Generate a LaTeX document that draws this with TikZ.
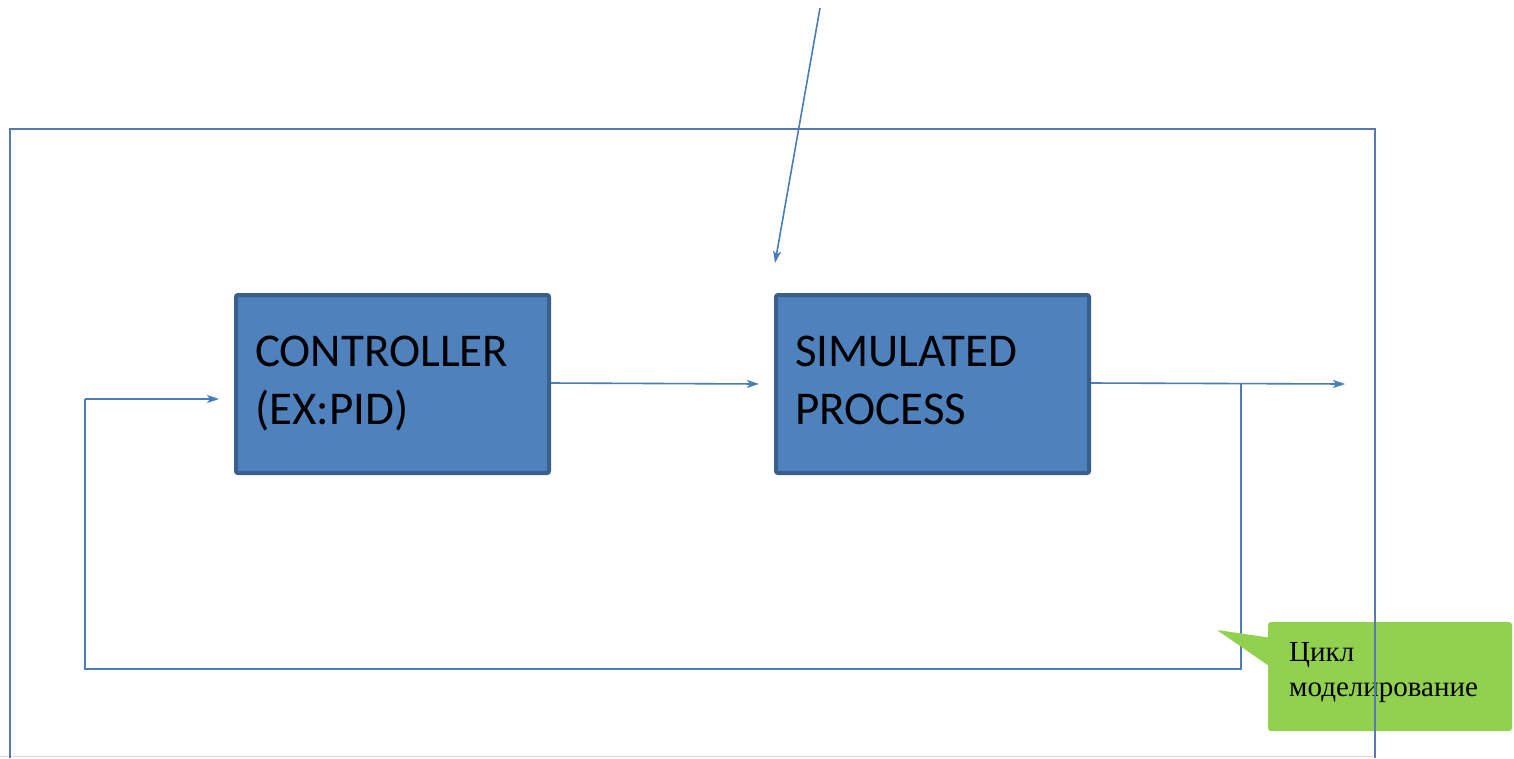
\documentclass[tikz,border=0pt]{standalone}
\usepackage{fontspec}
\setmainfont{Carlito}
\newfontfamily\notefont{Liberation Serif}
\usetikzlibrary{arrows.meta}
\definecolor{boxfill}{HTML}{4F81BD}
\definecolor{boxedge}{HTML}{3A5F8C}
\definecolor{wire}{HTML}{4A7EBB}
\definecolor{frame}{HTML}{5878B0}
\definecolor{notegreen}{HTML}{92D050}
\tikzset{
  block/.style={draw=boxedge, line width=4pt, fill=boxfill, rounded corners=2pt,
    minimum width=313pt, minimum height=178pt, inner sep=0pt},
  lbl/.style={font=\fontsize{47}{58}\selectfont, inner sep=0pt, anchor=base west},
  notelbl/.style={font=\notefont\fontsize{29}{35}\selectfont, inner sep=0pt, anchor=base west},
  wireline/.style={draw=wire, line width=1.6pt},
  flow/.style={wireline, -{Stealth[length=12pt,width=8pt,inset=3pt]}},
}
\begin{document}
\begin{tikzpicture}[x=1pt,y=-1pt]
\useasboundingbox (0,0) rectangle (1514,758);
\fill[white] (0,0) rectangle (1514,758);
% page edge at bottom
\draw[black!15, line width=1pt] (0,756) -- (1373,756);
% blocks
\node[block] (ctrl) at (392.5,384) {};
\node[block] (proc) at (932.5,384) {};
\node[lbl] (c1) at (255,366) {CONTROLLER};
\node[lbl] (c2) at (255,424) {(EX:PID)};
\node[lbl] (p1) at (795,366) {SIMULATED};
\node[lbl] (p2) at (795,424) {PROCESS};
% coordinates
\coordinate (topin) at (820,8);
\coordinate (topend) at (775,263);
\coordinate (midend) at (759,384);
\coordinate (outend) at (1345,384);
\coordinate (split) at (1241,384);
\coordinate (fbr) at (1241,669);
\coordinate (fbl) at (85,669);
\coordinate (fbt) at (85,399);
\coordinate (fbend) at (219,399);
% connectors
\draw[flow] (topin) -- (topend);
\draw[flow] (ctrl.east |- 0,383) -- (midend);
\draw[flow] (proc.east |- 0,383) -- (outend);
\draw[wireline] (split) -- (fbr) -- (fbl) -- (fbt);
\draw[flow] (fbt) -- (fbend);
% callout
\fill[notegreen, rounded corners=3pt] (1268,622) rectangle (1512,731);
\fill[notegreen, rounded corners=1pt] (1217,630) -- (1272,638) -- (1272,668) -- cycle;
\node[notelbl] (n1) at (1289,661) {Цикл};
\node[notelbl] (n2) at (1289,696) {моделирование};
% outer frame
\draw[frame, line width=2pt] (10,758) -- (10,129) -- (1375,129) -- (1375,758);
\end{tikzpicture}
\end{document}
